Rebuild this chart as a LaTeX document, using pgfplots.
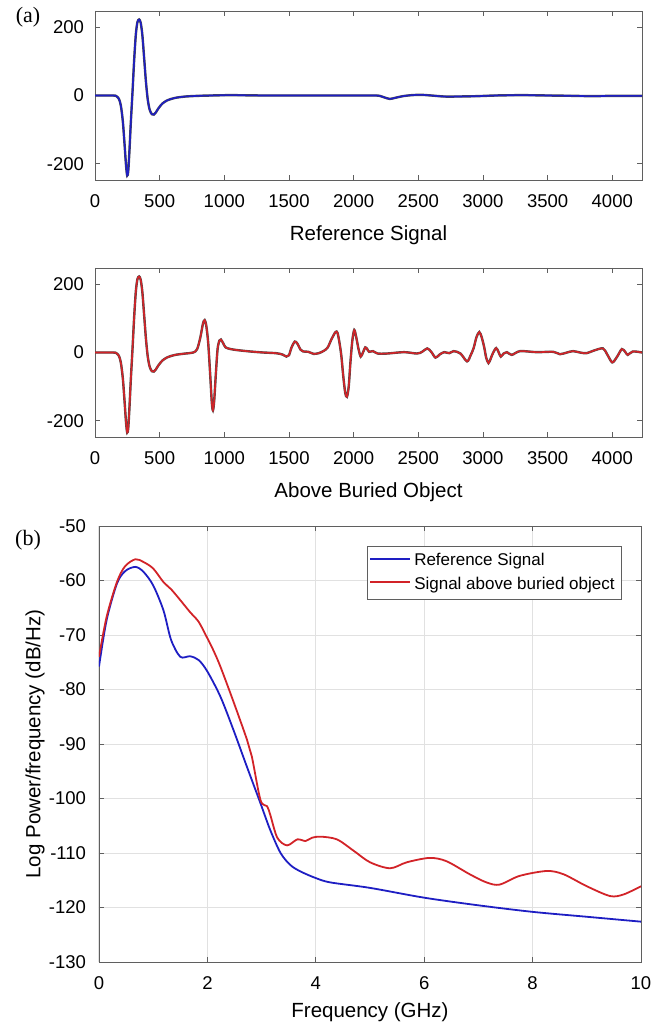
\documentclass[border=0pt]{standalone}
\usepackage{pgfplots}
\pgfplotsset{compat=1.18}
\usepackage{pgfplotstable}
\usepackage{fontspec}
\setmainfont{Liberation Sans}
\newfontfamily\seriffont{Liberation Serif}
\definecolor{myblue}{RGB}{30,30,195}
\definecolor{myred}{RGB}{210,35,40}
\definecolor{frame}{RGB}{95,95,95}
\definecolor{gridc}{RGB}{225,225,225}

\pgfplotstableread{
x y
0 0
140 0
165 -2
185 -10
200 -30
215 -75
228 -140
240 -205
249 -235
257 -222
266 -165
277 -80
290 10
303 105
316 180
328 215
341 223
353 214
366 178
380 110
394 40
408 -12
423 -42
440 -55
455 -56
470 -50
490 -38
520 -24
560 -14
620 -7
700 -3
800 -1
900 0
1050 1
1300 0
1600 0
1900 0
2150 0
2200 -1
2240 -6
2280 -10
2320 -7
2380 -2
2450 1
2520 2
2600 0
2700 -3
2800 -3
2950 -2
3100 0
3300 1
3500 0
3700 -1
3850 -2
4000 -1
4230 -1
}\refsig

\pgfplotstableread{
x y
0 0
140 0
165 -2
185 -10
200 -30
215 -75
228 -140
240 -205
249 -235
257 -222
266 -165
277 -80
290 10
303 105
316 180
328 215
341 223
353 214
366 178
380 110
394 40
408 -12
423 -42
440 -55
455 -56
470 -50
490 -38
520 -24
560 -14
620 -7
700 -3
760 0
790 10
815 45
835 85
848 95
860 80
875 30
890 -60
903 -145
912 -170
922 -140
935 -60
948 10
962 35
974 38
990 28
1010 15
1050 10
1100 7
1200 3
1300 0
1400 -2
1450 -6
1480 -12
1500 -8
1520 15
1545 32
1565 26
1590 8
1610 3
1650 2
1690 -4
1730 -2
1770 5
1800 15
1830 40
1860 60
1875 58
1890 30
1905 -10
1920 -70
1935 -118
1948 -130
1962 -100
1975 -30
1990 35
2005 66
2020 45
2038 10
2055 -12
2072 0
2090 15
2105 10
2120 2
2150 4
2185 -3
2260 -3
2390 1
2490 -3
2530 2
2569 12
2600 2
2633 -15
2665 -6
2700 1
2740 -2
2774 4
2826 -3
2877 -26
2905 -8
2928 13
2950 45
2972 60
2990 45
3010 15
3025 -15
3043 -31
3060 -18
3077 -2
3102 13
3120 2
3138 -12
3160 -3
3185 1
3223 -7
3287 4
3415 1
3544 2
3595 -5
3650 0
3697 4
3750 0
3800 -2
3860 6
3928 12
3960 -5
4000 -29
4038 -12
4074 10
4100 2
4120 -7
4159 3
4230 0
}\objsig

\pgfplotstableread{
f p
0 -75.8
0.14 -67.3
0.33 -60.6
0.48 -58.3
0.67 -57.5
0.82 -58.4
1.0 -60.9
1.19 -65.5
1.33 -70.9
1.5 -74.0
1.68 -73.9
1.84 -74.6
2.0 -76.7
2.24 -81.3
2.48 -87.4
2.73 -94.2
2.98 -100.9
3.16 -105.8
3.35 -110.0
3.53 -112.2
3.72 -113.4
4.0 -114.6
4.27 -115.4
5.0 -116.4
6.0 -118.2
7.0 -119.6
8.0 -120.8
9.0 -121.7
10.0 -122.6
}\refpsd

\pgfplotstableread{
f p
0 -74.0
0.14 -66.7
0.33 -60.3
0.48 -57.4
0.67 -56.1
0.82 -56.6
1.0 -57.8
1.19 -60.3
1.33 -61.6
1.5 -63.6
1.68 -65.8
1.84 -67.6
2.0 -70.6
2.11 -72.8
2.24 -75.8
2.48 -82.2
2.73 -89.2
2.82 -92.3
2.98 -100.3
3.10 -101.4
3.16 -103.0
3.29 -107.2
3.47 -108.6
3.66 -107.5
3.81 -107.8
3.93 -107.2
4.09 -107.0
4.39 -107.5
4.7 -109.6
5.0 -111.7
5.37 -112.8
5.68 -111.7
6.1 -110.9
6.41 -111.5
6.84 -113.9
7.15 -115.4
7.39 -115.8
7.76 -114.2
8.26 -113.3
8.57 -113.9
9.0 -116.1
9.43 -117.9
9.68 -117.6
10.0 -116.1
}\objpsd

\begin{document}
\begin{tikzpicture}
\useasboundingbox (0,0) rectangle (326.5pt,515pt);
\pgfplotsset{
  every axis/.append style={
    scale only axis,
    axis line style={frame},
    every tick/.style={frame, thin},
    tick align=inside,
    major tick length=2.5pt,
    /pgf/number format/assume math mode=true,
    /pgf/number format/1000 sep={},
    scaled ticks=false,
    tick label style={font=\fontsize{9.25}{11}\selectfont, text=black},
    label style={font=\fontsize{10.25}{12}\selectfont},
    xticklabel style={yshift=-4pt},
    yticklabel style={xshift=-2pt},
  }
}
\node[font=\seriffont\fontsize{11}{13}\selectfont] at (14pt,506.5pt) {(a)};
\node[font=\seriffont\fontsize{11}{13}\selectfont] at (14pt,245pt) {(b)};

% top axis
\begin{axis}[at={(47.5pt,425pt)}, anchor=south west,
  width=273.5pt, height=84.5pt,
  xmin=0, xmax=4230, ymin=-248, ymax=248,
  xtick={0,500,...,4000}, ytick={-200,0,200},
  xlabel={Reference Signal},
  xlabel style={at={(axis description cs:0.5,-0.325)}, anchor=center},
]
\addplot[black!70, line width=1.2pt, smooth] table[x=x,y=y] {\refsig};
\addplot[myblue, line width=0.8pt, smooth] table[x=x,y=y] {\refsig};
\end{axis}

% middle axis
\begin{axis}[at={(47.5pt,296.5pt)}, anchor=south west,
  width=273.5pt, height=84.5pt,
  xmin=0, xmax=4230, ymin=-248, ymax=248,
  xtick={0,500,...,4000}, ytick={-200,0,200},
  xlabel={Above Buried Object},
  xlabel style={at={(axis description cs:0.5,-0.325)}, anchor=center},
]
\addplot[black!70, line width=1.2pt, smooth] table[x=x,y=y] {\objsig};
\addplot[myred, line width=0.8pt, smooth] table[x=x,y=y] {\objsig};
\end{axis}

% bottom axis
\begin{axis}[at={(49.5pt,34pt)}, anchor=south west,
  width=271pt, height=218pt,
  xmin=0, xmax=10, ymin=-130, ymax=-50,
  xtick={0,2,...,10}, ytick={-130,-120,...,-50},
  grid=major, grid style={gridc, line width=0.5pt},
  xlabel={Frequency (GHz)},
  ylabel={Log Power/frequency (dB/Hz)},
  xlabel style={at={(axis description cs:0.5,-0.1147)}, anchor=center},
  ylabel style={at={(axis description cs:-0.118,0.5)}, anchor=center},
  yticklabel style={xshift=-1pt},
  legend style={at={(0.965,0.954)}, anchor=north east, draw=frame,
    font=\fontsize{8.5}{10}\selectfont, inner sep=1.5pt,
    cells={anchor=west}},
  legend image code/.code={\fill[#1, draw=none] (0pt,0.7pt) rectangle (20pt,1.6pt);},
]
\addplot[myblue, line width=0.9pt, smooth] table[x=f,y=p] {\refpsd};
\addlegendentry{Reference Signal}
\addplot[myred, line width=0.9pt, smooth] table[x=f,y=p] {\objpsd};
\addlegendentry{Signal above buried object}
\end{axis}
\end{tikzpicture}
\end{document}
